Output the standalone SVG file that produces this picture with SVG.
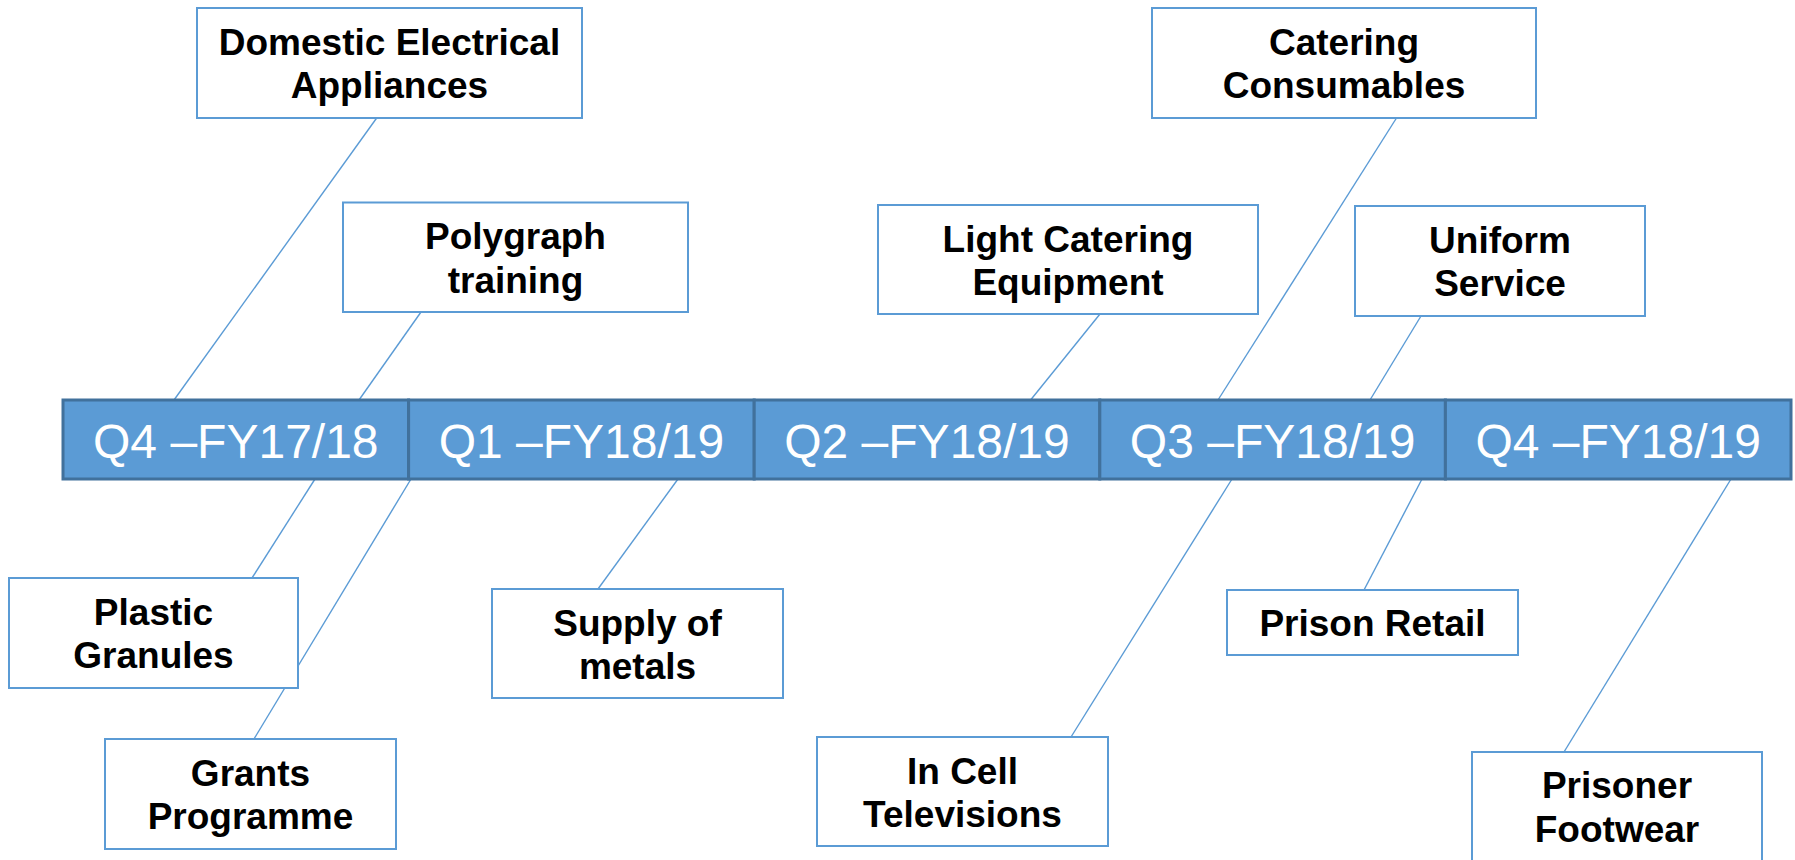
<svg xmlns="http://www.w3.org/2000/svg" width="1795" height="860" viewBox="0 0 1795 860">
<style>
.bg{fill:#ffffff}
.seg{fill:#5B9BD5;stroke:#41719C;stroke-width:3}
.qt{font-family:"Liberation Sans",Arial,sans-serif;font-size:48px;fill:#ffffff;text-anchor:middle}
.box{fill:#ffffff;stroke:#5B9BD5;stroke-width:2}
.bt{font-family:"Liberation Sans",Arial,sans-serif;font-size:37px;font-weight:bold;fill:#000000;text-anchor:middle}
.con{stroke:#5B9BD5;stroke-width:1.4;fill:none}
</style>
<rect class="bg" x="0" y="0" width="1795" height="860"/>
<g id="connectors">
<line class="con" x1="376.7" y1="118" x2="174" y2="400"/>
<line class="con" x1="421" y1="312" x2="359" y2="400"/>
<line class="con" x1="1100" y1="314" x2="1030.6" y2="400"/>
<line class="con" x1="1396.5" y1="118" x2="1218" y2="400"/>
<line class="con" x1="1421" y1="316" x2="1370" y2="400"/>
<line class="con" x1="315" y1="479" x2="252" y2="578"/>
<line class="con" x1="411" y1="479" x2="254" y2="739"/>
<line class="con" x1="678" y1="479" x2="598" y2="589"/>
<line class="con" x1="1232" y1="479" x2="1071" y2="737"/>
<line class="con" x1="1422" y1="479" x2="1364" y2="590"/>
<line class="con" x1="1731" y1="479" x2="1564" y2="752"/>
</g>
<g id="q4-fy1718">
<rect class="seg" x="63" y="400" width="345.6" height="79"/>
<text class="qt" x="235.8" y="458">Q4 –FY17/18</text>
</g>
<g id="q1-fy1819">
<rect class="seg" x="408.6" y="400" width="345.6" height="79"/>
<text class="qt" x="581.4" y="458">Q1 –FY18/19</text>
</g>
<g id="q2-fy1819">
<rect class="seg" x="754.2" y="400" width="345.6" height="79"/>
<text class="qt" x="927" y="458">Q2 –FY18/19</text>
</g>
<g id="q3-fy1819">
<rect class="seg" x="1099.8" y="400" width="345.6" height="79"/>
<text class="qt" x="1272.6" y="458">Q3 –FY18/19</text>
</g>
<g id="q4-fy1819">
<rect class="seg" x="1445.4" y="400" width="345.6" height="79"/>
<text class="qt" x="1618.2" y="458">Q4 –FY18/19</text>
</g>
<g id="domestic-electrical-appliances">
<rect class="box" x="197" y="8" width="385" height="110"/>
<text class="bt" x="389.5" y="54.5">Domestic Electrical</text>
<text class="bt" x="389.5" y="98">Appliances</text>
</g>
<g id="polygraph-training">
<rect class="box" x="343" y="202.5" width="345" height="109.5"/>
<text class="bt" x="515.5" y="249">Polygraph</text>
<text class="bt" x="515.5" y="292.5">training</text>
</g>
<g id="light-catering-equipment">
<rect class="box" x="878" y="205" width="380" height="109"/>
<text class="bt" x="1068" y="251.5">Light Catering</text>
<text class="bt" x="1068" y="295">Equipment</text>
</g>
<g id="catering-consumables">
<rect class="box" x="1152" y="8" width="384" height="110"/>
<text class="bt" x="1344" y="54.5">Catering</text>
<text class="bt" x="1344" y="98">Consumables</text>
</g>
<g id="uniform-service">
<rect class="box" x="1355" y="206" width="290" height="110"/>
<text class="bt" x="1500" y="252.5">Uniform</text>
<text class="bt" x="1500" y="296">Service</text>
</g>
<g id="plastic-granules">
<rect class="box" x="9" y="578" width="289" height="110"/>
<text class="bt" x="153.5" y="624.5">Plastic</text>
<text class="bt" x="153.5" y="668">Granules</text>
</g>
<g id="grants-programme">
<rect class="box" x="105" y="739" width="291" height="110"/>
<text class="bt" x="250.5" y="785.5">Grants</text>
<text class="bt" x="250.5" y="829">Programme</text>
</g>
<g id="supply-of-metals">
<rect class="box" x="492" y="589" width="291" height="109"/>
<text class="bt" x="637.5" y="635.5">Supply of</text>
<text class="bt" x="637.5" y="679">metals</text>
</g>
<g id="in-cell-televisions">
<rect class="box" x="817" y="737" width="291" height="109"/>
<text class="bt" x="962.5" y="783.5">In Cell</text>
<text class="bt" x="962.5" y="827">Televisions</text>
</g>
<g id="prison-retail">
<rect class="box" x="1227" y="590" width="291" height="65"/>
<text class="bt" x="1372.5" y="636">Prison Retail</text>
</g>
<g id="prisoner-footwear">
<rect class="box" x="1472" y="752" width="290" height="110"/>
<text class="bt" x="1617" y="797.5">Prisoner</text>
<text class="bt" x="1617" y="841.5">Footwear</text>
</g>
</svg>
